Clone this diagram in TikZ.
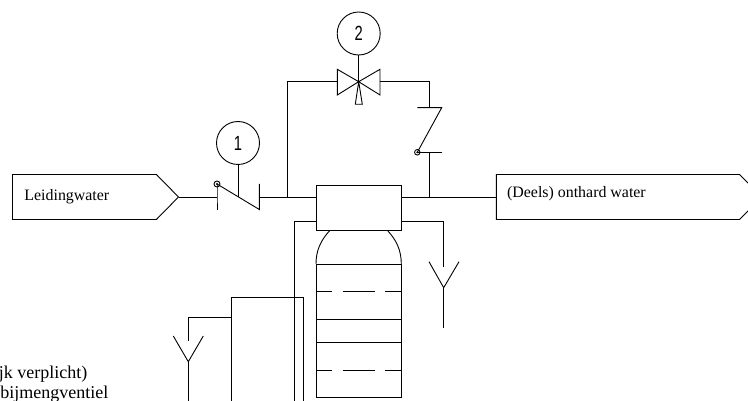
\documentclass[tikz,border=0pt]{standalone}
\usepackage{fontspec}
\setmainfont{Liberation Serif}
\newfontfamily\digitfont[FakeStretch=0.72]{Liberation Sans}
\usetikzlibrary{positioning, calc, shapes.symbols}

\begin{document}
\begin{tikzpicture}[x=1pt, y=-1pt, line width=0.9pt]
\tikzset{Flow/.style={shape=signal, signal to=east, signal pointer angle=91, draw, inner sep=0pt, outer sep=0pt, minimum height=45pt, anchor=west}}
\tikzset{Label/.style={inner sep=0pt, anchor=base west, font=\fontsize{15.9}{18}\selectfont}}
\tikzset{Note/.style={inner sep=0pt, anchor=base west, font=\fontsize{18}{20}\selectfont}}
\tikzset{Tag/.style={shape=circle, draw, inner sep=0pt, minimum size=43pt, font=\digitfont\fontsize{20.5}{21}\selectfont}}
\tikzset{Pivot/.style={shape=circle, draw, inner sep=0pt, minimum size=6pt}}
\tikzset{Unit/.style={shape=rectangle, draw, inner sep=0pt, outer sep=0pt, minimum width=85.4pt, minimum height=44.8pt}}

\useasboundingbox (0,0) rectangle (748,401);
\clip (0,0) rectangle (748,401);

% nodes
\node[Flow, minimum width=166pt] (supply) at (12.5,197) {};
\node[Label] (supplytext) at (24,201) {Leidingwater};
\node[Flow, minimum width=265.4pt] (soft) at (496.3,197) {};
\node[Label] (softtext) at (506.7,197.3) {(Deels) onthard water};

\node[Tag] (tag1) at (238,143) {1};
\node[Tag] (tag2) at (358.7,33.5) {2};
\node[Unit] (head) at (358.7,208) {};

\node[Pivot] (pivot1) at (217,184) {};
\node[Pivot, minimum size=5.5pt] (pivot2) at (417.3,152.3) {};

\node[Note] (note1) at (-1.5,378.3) {jk verplicht)};
\node[Note] (note2) at (0,398) {bijmengventiel};

% junctions
\coordinate (check1l) at (217,197);
\coordinate (check1r) at (259.3,197);
\coordinate (check1m) at (238,197);
\coordinate (branch) at (287.3,197);
\coordinate (valvel) at (337.3,81.7);
\coordinate (valvem) at (358.7,81.7);
\coordinate (valver) at (380,81.7);
\coordinate (check2t) at (429.3,107.7);
\coordinate (check2b) at (429.3,152.3);
\coordinate (merge) at (429.3,197);
\coordinate (drainr) at (443.7,266.7);
\coordinate (drainrf) at (443.7,287.7);
\coordinate (drainl) at (188.3,340.7);
\coordinate (drainlf) at (188.3,361.7);

% check valve 1
\draw (217,184) -- (check1l) -- (217,210);
\draw (259.3,184) -- (259.3,209.5) -- (pivot1.center);
\fill (pivot1.center) circle (1.2pt);

% valve with handle
\draw (valvem) -- (337.3,69.3) -- (337.3,95) -- cycle;
\draw (valvem) -- (380,69.3) -- (380,95) -- cycle;
\draw (valvem) -- (355.3,104.3) -- (362.3,104.3) -- cycle;

% check valve 2
\draw (417.3,107.7) -- (441.7,107.7) -- (pivot2.center);
\draw (pivot2.center) -- (441.7,152.3);
\fill (pivot2.center) circle (1.1pt);

% tank
\draw (316,264) .. controls (316,250) and (321,240) .. (330,230.3);
\draw (401.3,264) .. controls (401.3,250) and (396.3,240) .. (387.3,230.3);
\draw (316,264) rectangle (401.3,397.7);
\foreach \y in {319.7, 342} {
  \draw (316,\y) -- (401.3,\y);
}
\foreach \y in {291.7, 370} {
  \draw[dash pattern=on 16.3pt off 10.4pt on 32.3pt off 10pt on 16.3pt] (316,\y) -- (401.3,\y);
}

% funnels
\draw (429,261.7) -- (drainrf) -- (459,261.7);
\draw (173.3,336) -- (drainlf) -- (203.3,336);

% arrows
\draw (supply.east) -- (check1l);
\draw (check1r) -- (head.west |- check1r);
\draw (head.east |- merge) -- (soft.west);
\draw (tag1) -- (check1m);
\draw (tag2) -- (valvem);
\draw (branch) |- (valvel);
\draw (valver) -| (check2t);
\draw (check2b) -- (merge);
\draw (head.west |- 0,221.3) -| (294.7,401);
\draw (head.east |- 0,221.3) -| (drainr);
\draw (drainrf) -- (443.7,328.3);
\draw (231,401) |- (303.3,297.3) -- (303.3,401);
\draw (231,317.7) -| (drainl);
\draw (drainlf) -- (188.3,401);
\end{tikzpicture}
\end{document}
